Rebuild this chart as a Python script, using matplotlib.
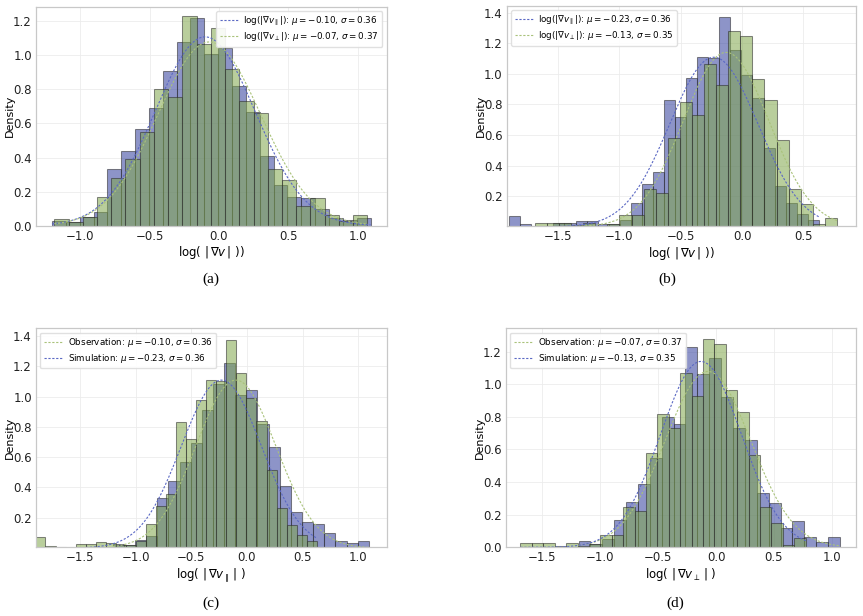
import numpy as np
import matplotlib
matplotlib.use("Agg")
import matplotlib.pyplot as plt

# histogram densities
# observation, parallel component
op_lo, op_hi = -1.205, 1.094
op_dens = [0.03, 0.02, 0.05, 0.08, 0.33, 0.44, 0.57, 0.69, 0.91, 1.08, 1.22, 1.01,
           1.04, 0.82, 0.67, 0.41, 0.24, 0.17, 0.16, 0.10, 0.045, 0.035, 0.045]
# observation, perpendicular component
opp_lo, opp_hi = -1.188, 1.071
opp_dens = [0.04, 0.02, 0.05, 0.166, 0.28, 0.39, 0.55, 0.80, 0.755, 1.23, 1.065,
            1.16, 0.92, 0.73, 0.66, 0.33, 0.27, 0.117, 0.164, 0.065, 0.03, 0.065]
# simulation, parallel component
sp_lo, sp_hi = -1.90, 0.627
sp_dens = [0.07, 0.015, 0.005, 0.0, 0.025, 0.025, 0.04, 0.035, 0.02, 0.02, 0.045,
           0.156, 0.28, 0.357, 0.83, 0.718, 0.975, 1.11, 1.10, 1.374, 1.155, 0.99,
           0.84, 0.515, 0.265, 0.155, 0.084, 0.045]
# simulation, perpendicular component
spp_lo, spp_hi = -1.69, 0.775
spp_dens = [0.025, 0.025, 0.025, 0.01, 0.025, 0.008, 0.02, 0.075, 0.075, 0.25, 0.22,
            0.577, 0.816, 0.73, 1.067, 0.925, 1.28, 1.245, 0.965, 0.83, 0.566, 0.25,
            0.15, 0.015, 0.055]

# gaussian fits quoted in the legends (mu, sigma)
op_fit = (-0.10, 0.36)
opp_fit = (-0.07, 0.37)
sp_fit = (-0.23, 0.36)
spp_fit = (-0.13, 0.35)

BLUE = '#2f3d9c'
GREEN = '#80a64c'
BLUE_LINE = '#5a68c4'
GREEN_LINE = '#a9c27a'
ALPHA = 0.55


def draw_hist(ax, lo, hi, dens, color):
    edges = np.linspace(lo, hi, len(dens) + 1)
    ax.bar(edges[:-1], dens, width=np.diff(edges), align='edge', color=color,
           alpha=ALPHA, edgecolor='#2a2a2a', linewidth=0.75)


def draw_fit(ax, lo, hi, fit, color, label):
    mu, sig = fit
    x = np.linspace(lo, hi, 300)
    y = np.exp(-0.5 * ((x - mu) / sig) ** 2) / (sig * np.sqrt(2 * np.pi))
    ax.plot(x, y, linestyle=(0, (2, 1.5)), color=color, linewidth=0.8, label=label)


def style(ax, xlabel):
    ax.set_facecolor('white')
    ax.grid(True, color='#ececec', linewidth=0.6)
    ax.set_axisbelow(True)
    for s in ax.spines.values():
        s.set_color('#c8c8c8')
        s.set_linewidth(0.9)
    ax.tick_params(length=0, labelsize=8.5, colors='#222222', pad=3)
    ax.set_ylabel('Density', fontsize=8)
    ax.yaxis.set_label_coords(-0.06, 0.5)
    ax.set_xlabel(xlabel, fontsize=8.5, labelpad=1)


def legend(ax, loc):
    ax.legend(loc=loc, fontsize=6.3, framealpha=0.9, edgecolor='#dddddd',
              handlelength=2.1, handletextpad=0.6, borderpad=0.4, labelspacing=0.3)


def fit_label(name, fit):
    return name + r'$\mu=%.2f$, $\sigma=%.2f$' % fit


fig = plt.figure(figsize=(8.63, 6.16), dpi=100)
W, H = 863.0, 616.0


def axes_px(l, t, r, b):
    return fig.add_axes([l / W, 1 - b / H, (r - l) / W, (b - t) / H])


par = r'log($|\nabla v_\parallel|$): '
perp = r'log($|\nabla v_\perp|$): '

# (a) observations
ax = axes_px(36, 6.7, 386.7, 225.7)
draw_hist(ax, op_lo, op_hi, op_dens, BLUE)
draw_hist(ax, opp_lo, opp_hi, opp_dens, GREEN)
draw_fit(ax, op_lo, op_hi, op_fit, BLUE_LINE, fit_label(par, op_fit))
draw_fit(ax, opp_lo, opp_hi, opp_fit, GREEN_LINE, fit_label(perp, opp_fit))
ax.set_xlim(-1.32, 1.21)
ax.set_ylim(0, 1.285)
style(ax, r'log( $|\,\nabla v\,|$ ))')
legend(ax, 'upper right')

# (b) simulations
ax = axes_px(506.7, 5.7, 856, 226)
draw_hist(ax, sp_lo, sp_hi, sp_dens, BLUE)
draw_hist(ax, spp_lo, spp_hi, spp_dens, GREEN)
draw_fit(ax, sp_lo, sp_hi, sp_fit, BLUE_LINE, fit_label(par, sp_fit))
draw_fit(ax, spp_lo, spp_hi, spp_fit, GREEN_LINE, fit_label(perp, spp_fit))
ax.set_xlim(-1.92, 0.93)
ax.set_ylim(0.005, 1.445)
style(ax, r'log( $|\,\nabla v\,|$ ))')
legend(ax, 'upper left')

# (c) parallel component
ax = axes_px(36, 328.3, 386.7, 547.3)
draw_hist(ax, op_lo, op_hi, op_dens, BLUE)
draw_hist(ax, sp_lo, sp_hi, sp_dens, GREEN)
draw_fit(ax, op_lo, op_hi, op_fit, GREEN_LINE, fit_label('Observation: ', op_fit))
draw_fit(ax, sp_lo, sp_hi, sp_fit, BLUE_LINE, fit_label('Simulation: ', sp_fit))
ax.set_xlim(-1.895, 1.255)
ax.set_ylim(0.005, 1.45)
style(ax, r'log( $|\,\nabla v_\parallel\,|$ )')
legend(ax, 'upper left')

# (d) perpendicular component
ax = axes_px(506, 328.3, 856, 547.3)
draw_hist(ax, opp_lo, opp_hi, opp_dens, BLUE)
draw_hist(ax, spp_lo, spp_hi, spp_dens, GREEN)
draw_fit(ax, opp_lo, opp_hi, opp_fit, GREEN_LINE, fit_label('Observation: ', opp_fit))
draw_fit(ax, spp_lo, spp_hi, spp_fit, BLUE_LINE, fit_label('Simulation: ', spp_fit))
ax.set_xlim(-1.815, 1.21)
ax.set_ylim(0, 1.343)
style(ax, r'log( $|\,\nabla v_\perp\,|$ )')
legend(ax, 'upper left')

# panel captions
for x, y, s in [(211, 279, '(a)'), (667, 279, '(b)'), (211, 603, '(c)'), (675, 603, '(d)')]:
    fig.text(x / W, 1 - y / H, s, ha='center', va='center', fontsize=11,
             family='Liberation Serif')

fig.savefig('out.png', dpi=100)
